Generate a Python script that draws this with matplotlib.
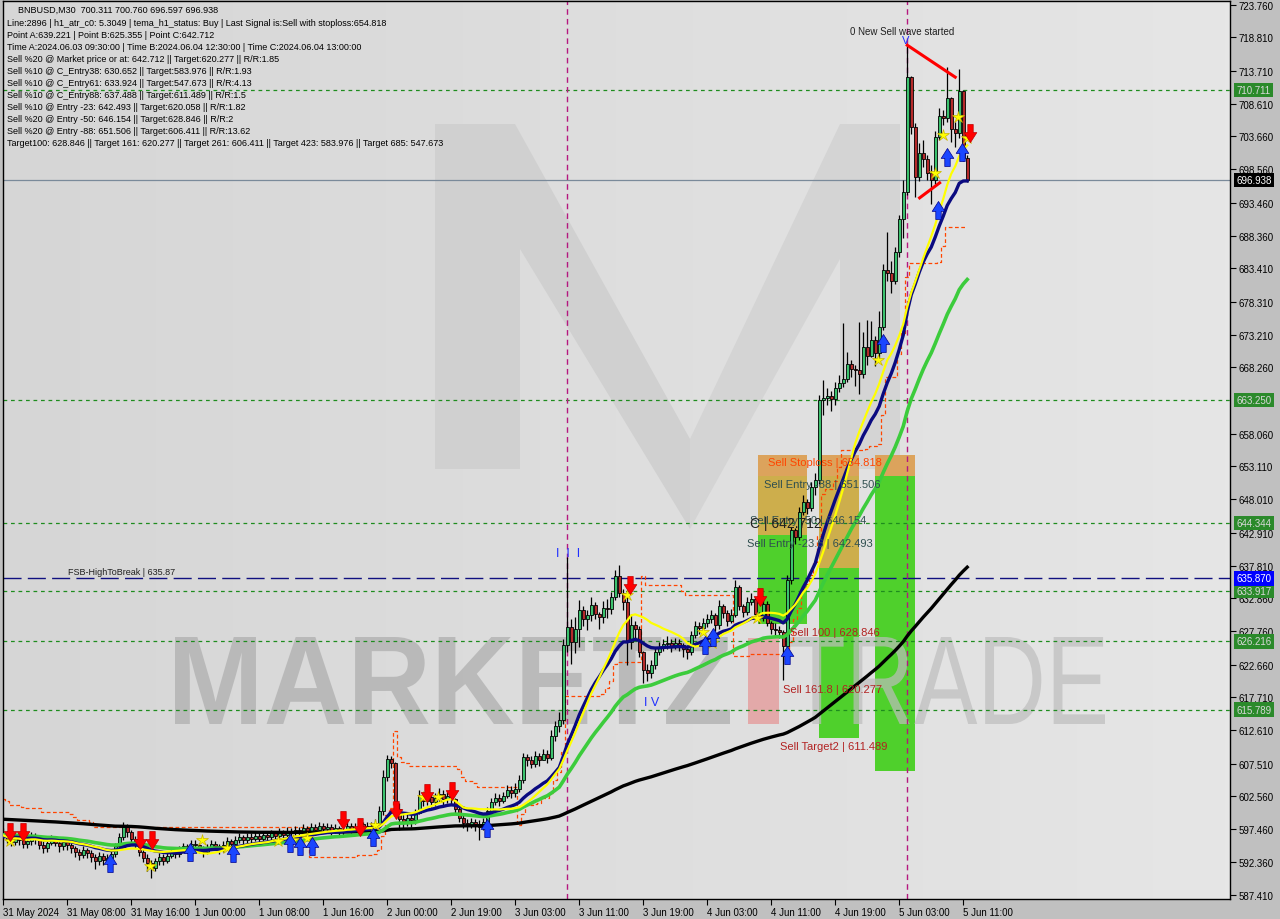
import numpy as np
import pandas as pd
import matplotlib
matplotlib.use("Agg")
import matplotlib.pyplot as plt
from matplotlib.patches import Rectangle, Polygon, PathPatch
from matplotlib.path import Path
from matplotlib.textpath import TextPath
from matplotlib.font_manager import FontProperties
from matplotlib.transforms import Affine2D, blended_transform_factory

plt.rcParams['font.family'] = ['Liberation Sans', 'DejaVu Sans']

# ---------------- data (BNBUSD M30) ----------------
first_open = 596.8
closes = [
    596.5, 596.0, 595.5, 596.2, 595.8, 595.2, 595.6, 596.3, 595.9, 595.0, 594.6, 595.4, 596.0, 595.3, 594.8, 595.5,
    595.0, 594.5, 594.0, 593.5, 594.2, 593.8, 593.2, 592.6, 593.4, 592.8, 593.0, 593.6, 594.8, 596.2, 597.8, 597.0,
    596.0, 595.2, 594.0, 593.0, 592.2, 591.5, 592.5, 593.2, 592.6, 593.4, 594.0, 593.6, 594.2, 594.8, 594.5, 595.2,
    595.0, 594.4, 594.0, 594.6, 595.2, 594.8, 594.3, 595.0, 595.6, 595.2, 595.8, 596.2, 595.8, 596.3, 596.0, 596.4,
    596.0, 596.5, 596.2, 596.8, 596.4, 597.0, 596.6, 597.2, 596.8, 597.4, 597.0, 597.6, 597.2, 597.8, 597.4, 598.0,
    597.5, 597.8, 597.2, 597.6, 597.0, 597.5, 597.9, 597.4, 597.8, 598.2, 597.6, 598.0, 597.8, 598.4, 600.2, 605.5,
    608.2, 607.6, 600.5, 599.0, 598.6, 599.2, 598.8, 600.0, 602.5, 601.8, 602.4, 601.6, 602.2, 602.8, 602.0, 602.6,
    602.0, 600.5, 599.2, 598.4, 598.0, 598.6, 598.2, 597.8, 598.5, 600.2, 601.6, 602.2, 601.8, 602.5, 603.4, 603.0,
    603.6, 605.0, 608.5, 608.0, 607.4, 608.6, 608.0, 609.0, 608.4, 611.8, 613.2, 614.2, 625.7, 628.5, 626.2, 628.2,
    631.1, 629.6, 630.2, 631.8, 630.5, 629.9, 631.4, 631.2, 633.0, 636.2, 633.6, 632.3, 626.1, 628.7, 628.1, 624.6,
    621.9, 621.4, 622.6, 624.6, 625.4, 625.8, 626.0, 625.5, 626.0, 625.6, 625.0, 624.6, 627.2, 628.6, 628.3, 629.0,
    629.6, 630.2, 628.8, 631.7, 630.6, 629.4, 630.2, 634.5, 631.6, 630.8, 632.3, 632.8, 630.5, 629.8, 632.0, 629.0,
    628.2, 628.0, 627.6, 625.5, 635.6, 643.3, 642.2, 646.0, 647.6, 646.7, 649.9, 651.0, 663.2, 663.6, 663.9, 663.4,
    665.1, 665.8, 666.5, 668.8, 668.0, 667.8, 667.2, 671.3, 670.0, 672.4, 670.4, 674.4, 683.2, 682.7, 681.5, 685.9,
    690.9, 695.1, 712.7, 705.1, 697.4, 701.0, 700.2, 698.0, 697.0, 703.6, 706.8, 706.5, 709.5, 704.7, 704.2, 710.6,
    700.3, 696.938,
]
highs = [
    597.6, 597.2, 596.6, 596.9, 596.8, 596.3, 596.2, 597.0, 596.8, 596.3, 595.6, 595.9, 596.6, 596.4, 595.8, 596.0,
    596.0, 595.4, 594.9, 594.4, 594.8, 594.6, 594.2, 593.6, 594.0, 593.8, 593.6, 594.2, 595.4, 596.8, 598.6, 598.2,
    597.4, 596.4, 595.6, 594.4, 593.6, 592.8, 593.0, 593.8, 593.6, 594.0, 594.6, 594.4, 594.8, 595.4, 595.2, 595.8,
    595.8, 595.4, 594.8, 595.2, 595.8, 595.6, 595.2, 595.6, 596.2, 596.0, 596.4, 596.9, 596.6, 596.9, 596.8, 597.0,
    596.8, 597.0, 596.9, 597.4, 597.2, 597.6, 597.4, 597.8, 597.6, 598.0, 597.8, 598.2, 597.9, 598.4, 598.2, 598.6,
    598.4, 598.4, 598.2, 598.2, 597.9, 598.0, 598.6, 598.4, 598.4, 598.8, 598.6, 598.6, 598.6, 599.0, 601.0, 606.5,
    608.8, 608.6, 607.8, 601.4, 600.0, 600.0, 599.8, 600.6, 603.4, 603.0, 603.2, 602.8, 603.0, 603.8, 603.4, 603.2,
    603.0, 602.2, 600.8, 599.6, 599.0, 599.2, 599.0, 598.8, 599.2, 600.8, 602.2, 603.0, 602.8, 603.2, 604.2, 604.0,
    604.6, 605.8, 609.2, 609.0, 608.6, 609.4, 609.2, 609.8, 609.6, 612.6, 614.0, 615.4, 626.6, 639.2, 629.6, 630.0,
    632.6, 631.6, 631.0, 633.0, 632.2, 630.8, 632.4, 632.8, 633.8, 637.2, 638.0, 634.2, 633.0, 630.4, 629.4, 628.6,
    624.8, 622.8, 623.4, 625.2, 626.2, 626.6, 627.0, 626.6, 626.8, 626.6, 626.0, 625.6, 627.8, 629.4, 629.2, 629.8,
    630.4, 631.0, 630.6, 632.6, 632.0, 631.0, 631.2, 635.6, 634.8, 632.0, 633.0, 633.6, 633.0, 630.8, 632.8, 632.4,
    629.4, 629.0, 628.6, 628.0, 636.4, 643.8, 643.6, 646.8, 648.6, 648.0, 650.6, 652.0, 664.0, 666.3, 665.0, 664.6,
    666.0, 667.0, 675.0, 670.6, 669.4, 668.6, 675.2, 673.6, 675.5, 675.4, 673.0, 676.8, 684.0, 689.0, 684.6, 686.6,
    691.6, 697.0, 717.6, 712.9, 705.6, 702.6, 703.0, 700.8, 699.2, 704.4, 708.0, 707.6, 714.3, 709.6, 705.8, 714.0,
    710.8, 700.76,
]
lows = [
    595.8, 595.4, 594.8, 595.0, 595.1, 594.6, 594.6, 595.0, 595.2, 594.4, 593.8, 594.0, 595.0, 594.8, 594.0, 594.3,
    594.2, 593.8, 593.2, 592.8, 593.0, 593.0, 592.4, 591.4, 592.0, 592.0, 592.2, 592.6, 593.2, 594.4, 595.8, 596.2,
    595.2, 594.6, 593.4, 592.4, 591.0, 590.0, 591.0, 592.0, 592.0, 592.2, 593.0, 593.0, 593.2, 594.0, 593.8, 594.2,
    594.4, 593.8, 593.2, 593.6, 594.2, 594.2, 593.6, 594.0, 594.6, 594.6, 594.8, 595.4, 595.2, 595.4, 595.4, 595.6,
    595.4, 595.6, 595.8, 595.8, 595.8, 596.0, 596.0, 596.2, 596.2, 596.4, 596.4, 596.6, 596.6, 596.8, 596.6, 596.8,
    596.8, 597.0, 596.6, 596.8, 596.4, 596.6, 597.0, 596.8, 597.0, 597.2, 597.0, 597.2, 597.0, 597.4, 597.8, 599.6,
    604.8, 606.8, 599.6, 597.4, 597.6, 598.0, 597.8, 598.2, 599.8, 601.0, 601.2, 600.8, 601.0, 601.6, 601.2, 601.4,
    601.2, 600.0, 598.6, 597.6, 597.2, 597.6, 597.2, 595.8, 597.4, 598.2, 600.0, 601.2, 601.0, 601.4, 602.2, 602.2,
    602.4, 603.2, 604.6, 607.2, 606.8, 607.0, 607.2, 608.0, 607.6, 608.0, 611.0, 612.4, 613.6, 624.6, 622.8, 624.4,
    625.4, 628.6, 628.0, 629.4, 629.6, 628.2, 629.0, 629.8, 630.4, 632.6, 633.0, 631.0, 622.6, 625.0, 626.4, 623.8,
    619.9, 620.2, 620.6, 622.0, 624.2, 624.8, 625.0, 624.6, 625.0, 624.8, 623.8, 623.6, 624.2, 626.8, 627.4, 627.8,
    628.4, 629.0, 627.8, 628.2, 629.8, 628.6, 629.0, 630.0, 631.0, 630.0, 630.2, 631.8, 630.0, 629.0, 629.4, 628.6,
    627.4, 627.2, 626.8, 620.3, 625.0, 635.0, 641.2, 641.8, 645.6, 645.8, 646.2, 648.6, 650.4, 661.0, 662.4, 661.6,
    662.4, 664.4, 665.2, 666.0, 666.8, 665.4, 664.2, 666.6, 668.6, 669.8, 668.4, 669.6, 674.0, 681.4, 679.6, 681.0,
    685.2, 688.0, 694.6, 704.0, 694.4, 696.8, 699.0, 697.0, 693.2, 696.4, 703.0, 705.4, 705.8, 702.8, 702.0, 703.4,
    699.8, 696.597,
]

tick_bars = list(range(0, 241, 16))
tick_labels = ["31 May 2024", "31 May 08:00", "31 May 16:00", "1 Jun 00:00", "1 Jun 08:00", "1 Jun 16:00",
               "2 Jun 00:00", "2 Jun 19:00", "3 Jun 03:00", "3 Jun 11:00", "3 Jun 19:00", "4 Jun 03:00",
               "4 Jun 11:00", "4 Jun 19:00", "5 Jun 03:00", "5 Jun 11:00"]
price_ticks = [723.760, 718.810, 713.710, 708.610, 703.660, 698.560, 693.460, 688.360, 683.410, 678.310,
               673.210, 668.260, 658.060, 653.110, 648.010, 642.910, 637.810, 632.860, 627.760, 622.660,
               617.710, 612.610, 607.510, 602.560, 597.460, 592.360, 587.410]

levels = [710.711, 663.250, 644.344, 633.917, 626.216, 615.789]
last_price = 696.938
fsb_level = 635.87
time_lines = [141, 226]

stoploss, entry88, entry50, entry23 = 654.818, 651.506, 646.154, 642.493
c_entry88 = 637.488
target100, target161, target2, target_e88 = 628.846, 620.277, 611.489, 606.411

sell_bars = [1.6, 4.9, 34.1, 37.1, 84.9, 89.1, 98.1, 105.9, 112.1, 156.6, 189.1, 241.6]
sell_prices = [597.0, 597.0, 595.8, 595.8, 598.9, 597.8, 600.4, 603.0, 603.3, 634.9, 633.1, 704.2]
buy_bars = [26.6, 46.6, 57.4, 71.6, 74.1, 77.1, 92.4, 120.9, 175.4, 177.4, 195.9, 219.9, 233.6, 235.9, 239.6]
buy_prices = [592.3, 594.0, 593.8, 595.4, 594.8, 594.8, 596.3, 597.7, 625.7, 626.9, 624.2, 672.0, 692.3, 700.4, 701.2]
star_bars = [1.6, 36.6, 49.6, 55.9, 68.6, 72.4, 75.9, 92.9, 104.9, 108.6, 155.9, 174.9, 177.1, 188.4,
             218.6, 232.9, 234.9, 238.6, 240.9]
star_prices = [595.6, 591.8, 595.8, 594.5, 595.6, 595.8, 596.1, 598.1, 602.4, 602.4, 633.4, 627.7, 626.0,
               629.8, 669.3, 698.0, 703.8, 706.6, 703.4]

wave_top_bars, wave_top_prices = [226, 238], [717.6, 712.7]
wave_low_bars, wave_low_prices = [229.1, 234.1], [694.2, 696.5]

header = [
    "Line:2896 | h1_atr_c0: 5.3049 | tema_h1_status: Buy | Last Signal is:Sell with stoploss:654.818",
    "Point A:639.221 | Point B:625.355 | Point C:642.712",
    "Time A:2024.06.03 09:30:00 | Time B:2024.06.04 12:30:00 | Time C:2024.06.04 13:00:00",
    "Sell %20 @ Market price or at: 642.712 || Target:620.277 || R/R:1.85",
    "Sell %10 @ C_Entry38: 630.652 || Target:583.976 || R/R:1.93",
    "Sell %10 @ C_Entry61: 633.924 || Target:547.673 || R/R:4.13",
    "Sell %10 @ C_Entry88: 637.488 || Target:611.489 || R/R:1.5",
    "Sell %10 @ Entry -23: 642.493 || Target:620.058 || R/R:1.82",
    "Sell %20 @ Entry -50: 646.154 || Target:628.846 || R/R:2",
    "Sell %20 @ Entry -88: 651.506 || Target:606.411 || R/R:13.62",
    "Target100: 628.846 || Target 161: 620.277 || Target 261: 606.411 || Target 423: 583.976 || Target 685: 547.673",
]
title_line = "BNBUSD,M30  700.311 700.760 696.597 696.938"

# ---------------- helpers ----------------
def ema(values, period, seed):
    k = 2.0 / (period + 1)
    out, prev = [], seed
    for v in values:
        prev = prev + k * (v - prev)
        out.append(prev)
    return np.array(out)


def supertrend(h, l, c, period=10, mult=3.0):
    n = len(c)
    prev_c = np.concatenate([[c[0]], c[:-1]])
    tr = np.maximum(h - l, np.maximum(abs(h - prev_c), abs(l - prev_c)))
    atr = pd.Series(tr).ewm(alpha=1.0 / period, adjust=False).mean().values
    hl2 = (h + l) / 2
    ub, lb = hl2 + mult * atr, hl2 - mult * atr
    fub, flb = ub.copy(), lb.copy()
    trend = -1
    line = np.zeros(n)
    for i in range(n):
        if i > 0:
            fub[i] = ub[i] if (ub[i] < fub[i - 1] or c[i - 1] > fub[i - 1]) else fub[i - 1]
            flb[i] = lb[i] if (lb[i] > flb[i - 1] or c[i - 1] < flb[i - 1]) else flb[i - 1]
            if trend == 1 and c[i] < flb[i]:
                trend = -1
            elif trend == -1 and c[i] > fub[i]:
                trend = 1
        line[i] = flb[i] if trend == 1 else fub[i]
    return line


W, H = 1280, 920
fig = plt.figure(figsize=(W / 100, H / 100), dpi=100, facecolor='#c0c0c0')
ax = fig.add_axes([3 / W, 20 / H, 1227 / W, 898 / H])

x = np.arange(len(closes))
c = np.array(closes)
o = np.array([first_open] + closes[:-1])
hi = np.maximum(np.array(highs), np.maximum(o, c))
lo = np.minimum(np.array(lows), np.minimum(o, c))

# background gradient
grad = np.linspace(0, 1, 256)[None, :]
bg = matplotlib.colors.LinearSegmentedColormap.from_list('bg', ['#d6d6d6', '#e6e6e6'])
ax.imshow(grad, extent=(0, 1, 0, 1), transform=ax.transAxes, aspect='auto', cmap=bg, zorder=0)


def fig_poly(pts, color, z=0.4, alpha=1.0):
    pts = [(px / W, 1 - py / H) for px, py in pts]
    ax.add_patch(Polygon(pts, closed=True, transform=fig.transFigure, fc=color, ec='none',
                         alpha=alpha, zorder=z))


def fig_word(word, x0, y0, x1, y1, color, weight='bold', alpha=1.0, z=1.6):
    tp = TextPath((0, 0), word, size=100, prop=FontProperties(family='Liberation Sans', weight=weight))
    bb = tp.get_extents()
    tr = (Affine2D().translate(-bb.x0, -bb.y0)
          .scale((x1 - x0) / bb.width / W, (y1 - y0) / bb.height / H)
          .translate(x0 / W, 1 - y1 / H) + fig.transFigure)
    ax.add_patch(PathPatch(tp, transform=tr, fc=color, ec='none', alpha=alpha, zorder=z))


# watermark logo
fig_poly([(435, 125), (515, 125), (690, 440), (690, 530), (520, 250), (520, 470), (435, 470)], '#d0d0d0')
fig_poly([(840, 125), (900, 125), (900, 470), (840, 470), (840, 260), (690, 530), (690, 440)], '#d4d4d4')

# trade zones
zones = [
    (188.7, 201.0, entry88, stoploss, '#dca35c'),
    (188.7, 201.0, entry23, entry88, '#cdae4c'),
    (188.7, 201.0, target100, entry23, '#4fd02c'),
    (204.0, 214.0, entry88, stoploss, '#dca35c'),
    (204.0, 214.0, c_entry88, entry88, '#cdae4c'),
    (204.0, 214.0, target2, c_entry88, '#4fd02c'),
    (218.0, 228.0, entry88, stoploss, '#dca35c'),
    (218.0, 228.0, target_e88, entry88, '#4fd02c'),
]
for x0, x1, y0, y1, col in zones:
    ax.add_patch(Rectangle((x0, y0), x1 - x0, y1 - y0, fc=col, ec='none', zorder=1))

fig_word("MARKETZ", 175, 638, 730, 725, '#b4b4b4', alpha=0.85)
fig_poly([(748, 639), (779, 639), (779, 725), (748, 725)], '#e3a9a9', z=1.7)
fig_word("TRADE", 790, 638, 1105, 725, '#bdbdbd', weight='normal', alpha=0.7)

# horizontal levels
for lv in levels:
    ax.axhline(lv, color='#1e8c1e', lw=0.9, dashes=(3, 3), zorder=2)
ax.axhline(last_price, color='#7a8a9a', lw=0.9, zorder=2)
ax.axhline(fsb_level, color='#101080', lw=1.0, dashes=(13, 4.5), zorder=2)
for tl in time_lines:
    ax.axvline(tl, color='#b5177f', lw=1.0, dashes=(4, 3), zorder=2)

# supertrend style stop line
st = supertrend(hi, lo, c, 10, 3.0)
ax.plot(x, st, color='#ff4500', lw=0.9, dashes=(3, 2), drawstyle='steps-mid', zorder=2.2)

# candles
ax.vlines(x, lo, hi, color='black', lw=0.9, zorder=3)
body_lo = np.minimum(o, c)
body_h = np.maximum(np.abs(c - o), 0.15)
cols = np.where(c >= o, '#3cc26e', '#b52a2a')
ax.bar(x, body_h, bottom=body_lo, width=0.72, color=cols, edgecolor='black', linewidth=0.6, zorder=3.1)

# moving averages
ax.plot(x, ema(closes, 200, 599.0), color='black', lw=2.4, zorder=4)
ax.plot(x, ema(closes, 45, 596.6), color='#3ccc3c', lw=2.6, zorder=4.1)
ax.plot(x, ema(closes, 21, 596.3), color='#0a0a80', lw=2.4, zorder=4.2)
ax.plot(x, pd.Series(closes).rolling(18, min_periods=1).mean(), color='#ffff00', lw=1.6, zorder=4.3)

# wave lines
ax.plot(wave_top_bars, wave_top_prices, color='#ff0000', lw=2.2, zorder=4.5)
ax.plot(wave_low_bars, wave_low_prices, color='#ff0000', lw=2.2, zorder=4.5)

# signal arrows
down_arrow = Path([(-0.3, 1.0), (0.3, 1.0), (0.3, 0.1), (0.7, 0.1), (0.0, -1.0), (-0.7, 0.1), (-0.3, 0.1), (-0.3, 1.0)],
                  closed=True)
up_arrow = Path([(vx, -vy) for vx, vy in down_arrow.vertices], closed=True)
ax.plot(star_bars, star_prices, ls='none', marker='*', ms=9, mfc='#ffff00', mec='#c8b400', mew=0.5, zorder=5)
ax.plot(sell_bars, sell_prices, ls='none', marker=down_arrow, ms=13, mfc='#ff0000', mec='#c00000', mew=0.5, zorder=5.1)
ax.plot(buy_bars, buy_prices, ls='none', marker=up_arrow, ms=13, mfc='#1a46ff', mec='#00008b', mew=0.5, zorder=5.1)

# object texts
tf = dict(fontsize=8, va='center', ha='left', zorder=6)
ax.text(191.1, 653.7, "Sell Stoploss | 654.818", color='#ff4500', **tf)
ax.text(190.1, 650.35, "Sell Entry -88 | 651.506", color='#2f4f4f', **tf)
ax.text(186.6, 644.8, "Sell Entry -50 | 646.154", color='#2f4f4f', **tf)
ax.text(186.6, 644.3, "C | 642.712", color='#202020', fontsize=10, va='center', ha='left', zorder=6)
ax.text(185.9, 641.3, "Sell Entry -23.6 | 642.493", color='#2f4f4f', **tf)
ax.text(196.6, 627.6, "Sell 100 | 628.846", color='#b22222', **tf)
ax.text(194.9, 619.0, "Sell 161.8 | 620.277", color='#b22222', **tf)
ax.text(194.1, 610.2, "Sell Target2 | 611.489", color='#b22222', **tf)
ax.text(16.2, 636.9, "FSB-HighToBreak | 635.87", color='#202020', fontsize=6.5, va='center', ha='left', zorder=6)
ax.text(211.7, 719.8, "0 New Sell wave started", color='#202020', fontsize=7, va='center', ha='left', zorder=6)
ax.text(141.2, 639.8, "I  I  I", color='#2030ff', fontsize=9, va='center', ha='center', zorder=6)
ax.text(162.2, 617.0, "I V", color='#2030ff', fontsize=9, va='center', ha='center', zorder=6)
ax.text(225.7, 718.4, "V", color='#2030ff', fontsize=8, va='center', ha='center', zorder=6)

# header block
fig.text(18 / W, 1 - 10.7 / H, title_line, fontsize=6.5, va='center', ha='left', color='black')
for i, line in enumerate(header):
    fig.text(7 / W, 1 - (24 + 12 * i) / H, line, fontsize=6.5, va='center', ha='left', color='black')

# axes
ax.set_xlim(-0.075, 306.7)
ax.set_ylim(586.75, 724.37)
ax.yaxis.tick_right()
ax.set_yticks(price_ticks)
ax.set_yticklabels([f"{p:.3f}" for p in price_ticks])
ax.set_xticks(tick_bars)
ax.set_xticklabels(tick_labels, ha='left')
ax.tick_params(axis='both', labelsize=7, length=4, width=0.8, color='black', pad=2)
for sp in ax.spines.values():
    sp.set_color('black')
    sp.set_linewidth(1.0)

# right side price boxes
bt = blended_transform_factory(ax.transAxes, ax.transData)
boxes = [(lv, '#2b8a2b', '#d8d8d8') for lv in levels] + [(last_price, 'black', 'white'), (fsb_level, '#0000ff', 'white')]
for val, fc, tc in boxes:
    ax.text(1.0052, val, f"{val:.3f}", transform=bt, fontsize=7, va='center', ha='left', color=tc,
            bbox=dict(boxstyle='square,pad=0.22', fc=fc, ec='none'), clip_on=False, zorder=7)

fig.savefig("out.png", dpi=100, facecolor=fig.get_facecolor())
